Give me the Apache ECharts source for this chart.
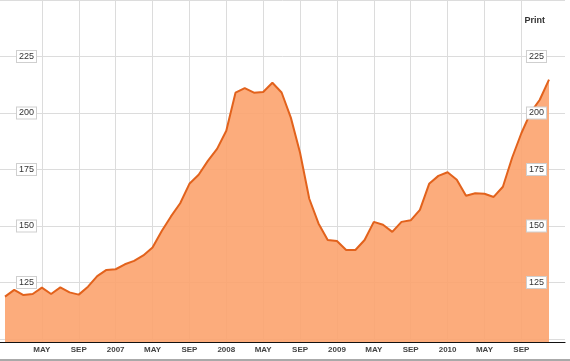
<!DOCTYPE html>
<html>
<head>
<meta charset="utf-8">
<script src="https://cdn.jsdelivr.net/npm/echarts@6/dist/echarts.min.js"></script>
<style>html,body{margin:0;padding:0;background:#fff}#c{width:570px;height:361px}</style>
</head>
<body>
<div id="c"></div>
<script>
// Monthly categories Jan 2006 – Dec 2010
var months = [
 'Jan 2006','Feb 2006','Mar 2006','Apr 2006','May 2006','Jun 2006','Jul 2006','Aug 2006','Sep 2006','Oct 2006','Nov 2006','Dec 2006',
 'Jan 2007','Feb 2007','Mar 2007','Apr 2007','May 2007','Jun 2007','Jul 2007','Aug 2007','Sep 2007','Oct 2007','Nov 2007','Dec 2007',
 'Jan 2008','Feb 2008','Mar 2008','Apr 2008','May 2008','Jun 2008','Jul 2008','Aug 2008','Sep 2008','Oct 2008','Nov 2008','Dec 2008',
 'Jan 2009','Feb 2009','Mar 2009','Apr 2009','May 2009','Jun 2009','Jul 2009','Aug 2009','Sep 2009','Oct 2009','Nov 2009','Dec 2009',
 'Jan 2010','Feb 2010','Mar 2010','Apr 2010','May 2010','Jun 2010','Jul 2010','Aug 2010','Sep 2010','Oct 2010','Nov 2010','Dec 2010'
];
var values = [
 118.7, 121.7, 119.4, 119.9, 122.7, 119.9, 122.8, 120.6, 119.6, 123.1, 127.8, 130.5,
 130.8, 133.0, 134.5, 136.9, 140.4, 147.7, 154.1, 159.9, 168.5, 172.5, 178.6, 183.9,
 191.9, 208.7, 210.7, 208.7, 209.0, 213.1, 208.8, 197.7, 182.2, 161.9, 151.0, 143.7,
 143.3, 139.3, 139.3, 143.7, 151.7, 150.4, 147.3, 151.7, 152.4, 157.0, 168.5, 172.0,
 173.6, 170.3, 163.2, 164.3, 164.1, 162.7, 167.2, 180.0, 190.8, 199.9, 205.6, 214.5
];
var xTickLabels = ['MAY','SEP','2007','MAY','SEP','2008','MAY','SEP','2009','MAY','SEP','2010','MAY','SEP'];
var yTicks = [125, 150, 175, 200, 225];

var showTick = function (idx) { return idx > 0 && idx % 4 === 0; };
var labelBox = {
  fontFamily: 'Liberation Sans, Arial', fontSize: 9, color: '#333',
  backgroundColor: '#fff', borderColor: '#cfcfcf', borderWidth: 1, padding: [1, 2, 1, 2],
  showMinLabel: false, showMaxLabel: false,
  formatter: function (v) { return yTicks.indexOf(v) >= 0 ? String(v) : ''; }
};
var labelAxis = function (pos, margin) {
  return {
    type: 'value', gridIndex: 1, min: 100, max: 250, interval: 25, position: pos, z: 10,
    axisLine: {show: false}, axisTick: {show: false},
    axisLabel: Object.assign({inside: true, margin: margin}, labelBox),
    splitLine: {show: false}
  };
};

var chart = echarts.init(document.getElementById('c'), null, {renderer: 'canvas'});
chart.setOption({
  animation: false,
  backgroundColor: '#fff',
  title: {
    text: 'Print', right: 20, top: 11,
    textStyle: {fontFamily: 'Liberation Sans, Arial', fontSize: 9, fontWeight: 'bold', color: '#333'}
  },
  grid: [
    {left: 5, right: 21, top: 0, bottom: 19},
    {left: 0, right: 5, top: -2, bottom: 22}
  ],
  xAxis: [
    {
      type: 'category', gridIndex: 0, data: months, boundaryGap: false,
      axisLine: {show: false}, axisTick: {show: false},
      axisLabel: {
        interval: function (i) { return showTick(i); },
        formatter: function (v, i) { return xTickLabels[i / 4 - 1] || ''; },
        fontFamily: 'Liberation Sans, Arial', fontSize: 8, fontWeight: 'bold', color: '#444', margin: 4
      },
      splitLine: {show: true, interval: function (i) { return showTick(i); }, lineStyle: {color: '#dcdcdc', width: 1}}
    },
    {
      type: 'category', gridIndex: 1, data: [''], offset: 3, z: 10,
      axisLine: {show: true, lineStyle: {color: '#111', width: 1.2}},
      axisTick: {show: false}, axisLabel: {show: false}, splitLine: {show: false}
    }
  ],
  yAxis: [
    {type: 'value', gridIndex: 0, min: 98.7, max: 249.6, show: false, splitLine: {show: false}},
    {
      type: 'value', gridIndex: 1, min: 100, max: 250, interval: 25, position: 'left', z: 0,
      axisLine: {show: false}, axisTick: {show: false}, axisLabel: {show: false},
      splitLine: {show: true, lineStyle: {color: '#dcdcdc', width: 1}}
    },
    labelAxis('left', 17),
    labelAxis('right', 19)
  ],
  series: [{
    type: 'line', xAxisIndex: 0, yAxisIndex: 0, data: values,
    symbol: 'none', smooth: false,
    lineStyle: {color: '#e2621c', width: 2},
    areaStyle: {color: 'rgb(252,163,110)', opacity: 0.9},
    z: 2
  }],
  graphic: [{
    type: 'line', shape: {x1: 0, y1: 360, x2: 570, y2: 360},
    style: {stroke: '#555', lineWidth: 1}
  }]
});
</script>
</body>
</html>
